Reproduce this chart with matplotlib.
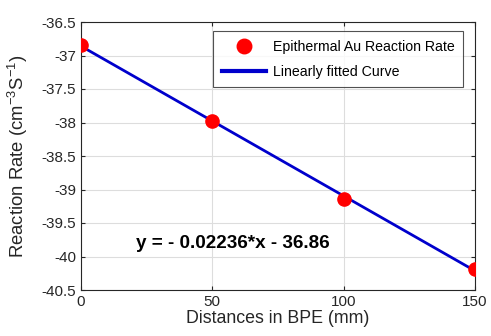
import numpy as np
from matplotlib import pyplot as plt

plt.rcParams['font.family'] = ['Liberation Sans', 'DejaVu Sans']
plt.rcParams['mathtext.fontset'] = 'custom'
plt.rcParams['mathtext.rm'] = 'Liberation Sans'

# measured reaction rates
distance = [0, 50, 100, 150]
rate = [-36.84, -37.98, -39.14, -40.18]

# linear fit shown on the chart
slope = -0.02236
intercept = -36.86
fit_x = np.array([0, 150])
fit_y = slope * fit_x + intercept

x_ticks = [0, 50, 100, 150]
y_ticks = [-36.5, -37, -37.5, -38, -38.5, -39, -39.5, -40, -40.5]

fig = plt.figure(figsize=(4.91, 3.36), dpi=100)
ax = fig.add_axes([81 / 491, 1 - 290 / 336, 394 / 491, 268 / 336])

ax.plot(distance, rate, 'o', color='red', markersize=9.5, zorder=3,
        label='Epithermal Au Reaction Rate')
ax.plot(fit_x, fit_y, '-', color='#0000cc', linewidth=2, zorder=2,
        label='Linearly fitted Curve')

ax.set_xlim(0, 150)
ax.set_ylim(-40.5, -36.5)
ax.set_xticks(x_ticks)
ax.set_yticks(y_ticks)
ax.set_yticklabels(['%g' % v for v in y_ticks])
ax.grid(True, color='#dddddd', linewidth=0.8)
ax.set_axisbelow(True)
ax.tick_params(direction='in', length=3, labelsize=11, colors='#262626',
               top=True, right=True)
for s in ax.spines.values():
    s.set_color('#262626')
    s.set_linewidth(0.8)

ax.set_xlabel('Distances in BPE (mm)', fontsize=12.8, color='#262626', labelpad=1)
ax.set_ylabel('Reaction Rate (cm$^{\\mathrm{-3}}$S$^{\\mathrm{-1}}$)',
              fontsize=13.3, color='#262626', labelpad=8)

ax.text(21, -39.8, 'y = - 0.02236*x - 36.86', fontsize=13.6,
        fontweight='bold', color='black', va='center')

leg = ax.legend(loc='upper right', bbox_to_anchor=(0.9695, 0.966), fontsize=10.2,
                frameon=True, fancybox=False, edgecolor='#262626',
                borderaxespad=0, borderpad=0.6, handlelength=3.1,
                labelspacing=0.8, handletextpad=0.5, markerscale=1.1)
leg.get_frame().set_linewidth(0.8)
leg.legend_handles[1].set_linewidth(3)

fig.savefig('out.png', dpi=100)
